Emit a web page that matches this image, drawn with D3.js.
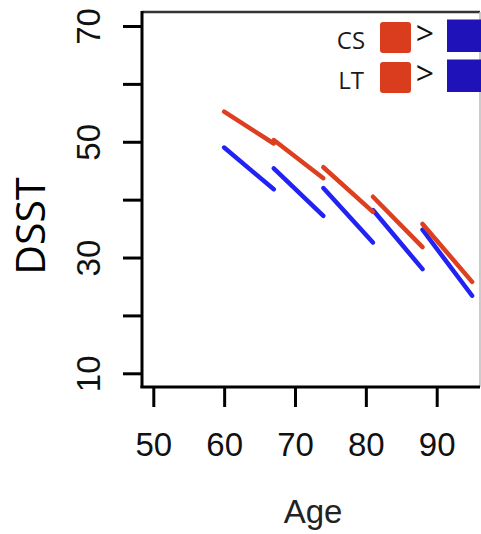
<!DOCTYPE html>
<html>
<head>
<meta charset="utf-8">
<script src="https://cdn.jsdelivr.net/npm/d3@7"></script>
<style>
  body { margin: 0; background: #fff; }
  svg { display: block; }
</style>
</head>
<body>
<script>
// DSST trajectories by age cohort: each cohort followed for 7 years
const cohortStart = [60, 67, 74, 81, 88];
const cohortEnd   = [67, 74, 81, 88, 95];
// Cross-sectional (red) start / end values
const csStart = [55.2, 50.3, 45.6, 40.5, 35.8];
const csEnd   = [49.7, 43.7, 37.9, 31.8, 25.8];
// Longitudinal (blue) start / end values
const ltStart = [49.0, 45.4, 42.0, 38.2, 34.8];
const ltEnd   = [41.8, 37.2, 32.6, 28.0, 23.4];

const xTicks = [50, 60, 70, 80, 90];
const yTicks = [10, 20, 30, 40, 50, 60, 70];
const yLabels = [10, 30, 50, 70];
const legendRows = ["CS", "LT"];

const W = 481, H = 534;
const svg = d3.select("body").append("svg").attr("width", W).attr("height", H);

const x = d3.scaleLinear().domain([50, 90]).range([153.3, 436.7]);
const y = d3.scaleLinear().domain([10, 70]).range([373.3, 26]);

const boxL = 142, boxT = 12, boxB = 387, boxR = 480;
const red = "#dd3f1f", blue = "#2222f4";

// plot frame
svg.append("line").attr("x1", boxL).attr("x2", boxR).attr("y1", boxT).attr("y2", boxT)
  .attr("stroke", "#333").attr("stroke-width", 2.5);
svg.append("line").attr("x1", boxR).attr("x2", boxR).attr("y1", boxT).attr("y2", boxB)
  .attr("stroke", "#bbb").attr("stroke-width", 1.5);

// y axis
const yAxis = d3.axisLeft(y).tickValues(yTicks).tickSize(19)
  .tickFormat(d => yLabels.includes(d) ? d : "");
const gy = svg.append("g").attr("transform", `translate(${boxL},0)`).call(yAxis);
gy.select(".domain").remove();
gy.selectAll(".tick line").attr("stroke", "#000").attr("stroke-width", 3);
gy.selectAll(".tick text")
  .attr("x", 0).attr("y", 0).attr("dy", 0)
  .attr("transform", "translate(-42,0) rotate(-90)")
  .attr("text-anchor", "middle")
  .style("font-family", "'Liberation Sans', Arial, sans-serif")
  .style("font-size", "33px").attr("fill", "#111");
svg.append("line").attr("x1", boxL).attr("x2", boxL).attr("y1", boxT - 1).attr("y2", boxB + 1)
  .attr("stroke", "#000").attr("stroke-width", 3);

// x axis
const xAxis = d3.axisBottom(x).tickValues(xTicks).tickSize(20).tickPadding(26);
const gx = svg.append("g").attr("transform", `translate(0,${boxB})`).call(xAxis);
gx.select(".domain").remove();
gx.selectAll(".tick line").attr("stroke", "#000").attr("stroke-width", 3);
gx.selectAll(".tick text")
  .style("font-family", "'Liberation Sans', Arial, sans-serif")
  .style("font-size", "33px").attr("fill", "#111");
svg.append("line").attr("x1", boxL - 1.5).attr("x2", boxR).attr("y1", boxB).attr("y2", boxB)
  .attr("stroke", "#000").attr("stroke-width", 3);

// axis titles
svg.append("text").attr("x", 313).attr("y", 523).attr("text-anchor", "middle")
  .style("font-family", "'Liberation Sans', Arial, sans-serif")
  .style("font-size", "33px").attr("fill", "#222").text("Age");
svg.append("text").attr("transform", "translate(45,226) rotate(-90)")
  .attr("text-anchor", "middle")
  .style("font-family", "'Open Sans', sans-serif")
  .style("font-size", "41px").attr("fill", "#000").text("DSST");

// trajectory segments
const line = d3.line().x(d => x(d[0])).y(d => y(d[1]));
function drawSegments(starts, ends, color) {
  svg.append("g").selectAll("path")
    .data(cohortStart.map((a, i) => [[a, starts[i]], [cohortEnd[i], ends[i]]]))
    .join("path")
    .attr("d", line)
    .attr("fill", "none").attr("stroke", color)
    .attr("stroke-width", 4.5).attr("stroke-linecap", "round");
}
drawSegments(ltStart, ltEnd, blue);
drawSegments(csStart, csEnd, red);

// legend
const lg = svg.append("g");
legendRows.forEach((lab, i) => {
  const yo = i * 40;
  lg.append("text").attr("x", 351).attr("y", 48.5 + yo).attr("text-anchor", "middle")
    .style("font-family", "'Open Sans', sans-serif").style("font-size", "24px")
    .attr("fill", "#1a1a1a").text(lab);
  lg.append("rect").attr("x", 380).attr("y", 22 + yo).attr("width", 31).attr("height", 31)
    .attr("rx", 3).attr("fill", "#d93d1e");
  lg.append("text").attr("x", 425).attr("y", 45 + yo).attr("text-anchor", "middle")
    .style("font-family", "'Open Sans', sans-serif").style("font-size", "32px")
    .attr("fill", "#111").text(">");
  lg.append("rect").attr("x", 447).attr("y", 19.5 + yo).attr("width", 40).attr("height", 32.5)
    .attr("fill", "#1f12b8");
});
</script>
</body>
</html>
